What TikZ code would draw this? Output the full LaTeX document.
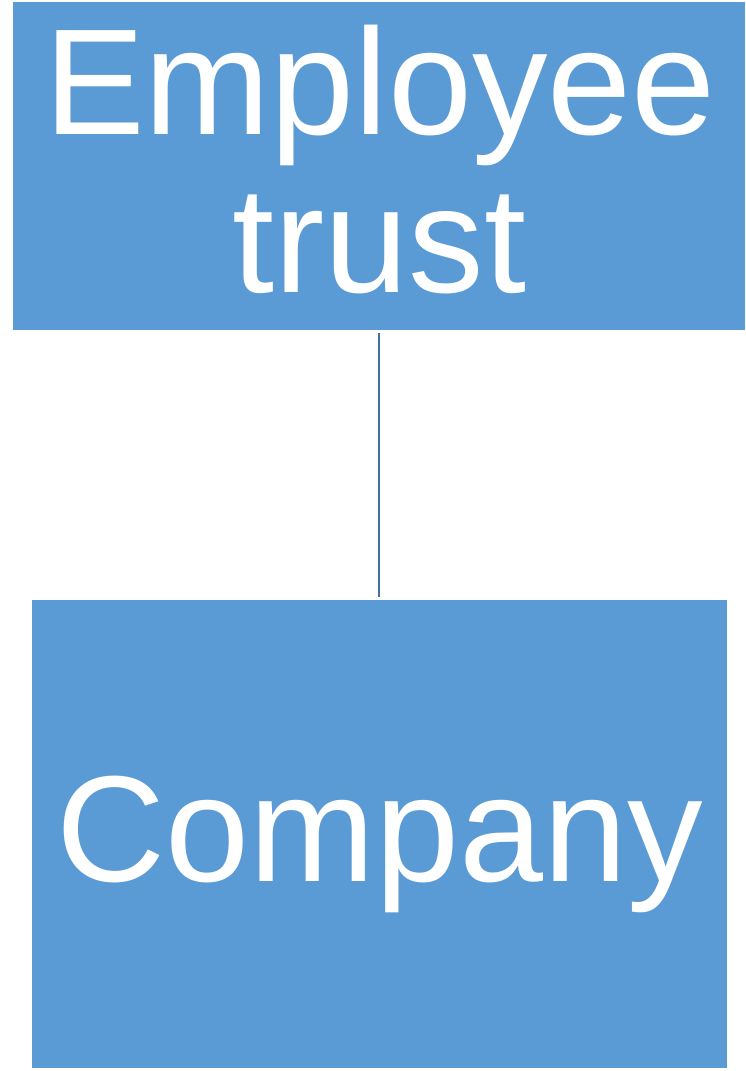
\documentclass[tikz,border=0pt]{standalone}
\usepackage{fontspec}
\setmainfont{Liberation Sans}
\definecolor{boxblue}{HTML}{5B9BD5}
\definecolor{linkblue}{HTML}{41719C}
\begin{document}
\begin{tikzpicture}[x=1pt,y=1pt,
  unitbox/.style={rectangle, fill=boxblue, draw=none, inner sep=0pt},
  bigtext/.style={text=white, inner sep=0pt, anchor=base,
    font=\fontsize{151}{158}\selectfont},
  link/.style={draw=linkblue, line width=2.2pt}]
  \useasboundingbox (0,0) rectangle (746,-1071);
  % two boxes of the chart
  \node[unitbox, minimum width=732pt, minimum height=328pt] (trust) at (379,-166) {};
  \node[unitbox, minimum width=695pt, minimum height=468pt] (company) at (379.5,-834) {};
  % labels
  \node[bigtext] (trustA) at (380,-134) {Employee};
  \node[bigtext] (trustB) at (379.5,-292) {trust};
  \node[bigtext] (companyT) at (379.5,-881) {Company};
  % connector, kept vertical
  \draw[link] ([yshift=-3pt]trust.south) -- ([yshift=3pt]trust.south |- company.north);
\end{tikzpicture}
\end{document}
